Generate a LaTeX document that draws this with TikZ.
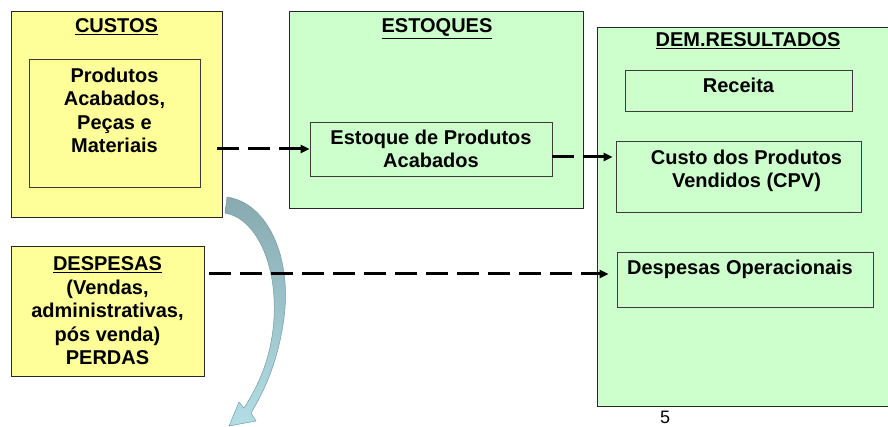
\documentclass[tikz,border=0pt]{standalone}
\usepackage{fontspec}
\setmainfont{Liberation Sans}
\usetikzlibrary{arrows.meta,calc,positioning}
\definecolor{custosyellow}{RGB}{255,255,153}
\definecolor{estoquegreen}{RGB}{204,255,204}
\definecolor{bandteal}{RGB}{136,170,176}
\definecolor{bandlight}{RGB}{178,222,230}
\definecolor{bandedge}{RGB}{118,156,162}
\tikzset{
ybox/.style={draw={rgb,255:red,40;green,40;blue,40}, fill=custosyellow, line width=0.9pt, inner sep=0pt},
gbox/.style={draw={rgb,255:red,40;green,40;blue,40}, fill=estoquegreen, line width=0.9pt, inner sep=0pt},
inbox/.style={draw={rgb,255:red,60;green,60;blue,60}, line width=0.75pt, inner sep=0pt},
boxtext/.style={font=\bfseries\fontsize{20}{23.5}\selectfont, align=center, inner sep=0pt},
dasharr/.style={line width=3pt, dash pattern=on 22pt off 9pt, -{Triangle[length=9pt,width=8pt]}}}

\begin{document}
\begin{tikzpicture}[x=1pt,y=1pt,yscale=-1,xscale=1]

    \useasboundingbox (0,0) rectangle (888,427);

    % boxes
    \node[ybox, minimum width=211pt, minimum height=206pt] (custos) at (116.5,114) {};
    \node[inbox, minimum width=171pt, minimum height=128pt] (prod) at (114.5,123) {};
    \node[gbox, minimum width=294pt, minimum height=197pt] (estoques) at (436,109.5) {};
    \node[inbox, boxtext, minimum width=242pt, minimum height=54pt] (estq) at (431,149)
        {Estoque de Produtos\\Acabados};
    \node[gbox, minimum width=300pt, minimum height=379pt] (dem) at (747,216.5) {};
    \node[inbox, minimum width=227pt, minimum height=41pt] (rec) at (738.5,90.5) {};
    \node[inbox, minimum width=245pt, minimum height=71pt] (cpv) at (738.5,176.5) {};
    \node[inbox, minimum width=256pt, minimum height=55pt] (dop) at (745,279.5) {};
    \node[ybox, boxtext, minimum width=193pt, minimum height=130pt] (desp) at (107.5,311)
        {\underline{DESPESAS}\\(Vendas,\\administrativas,\\pós venda)\\PERDAS};

    % curved block arrow
    \draw[draw=bandedge, line width=0.5pt, top color=bandteal, bottom color=bandlight]
        (227,197) .. controls (268,203) and (292,258) .. (284,318)
        .. controls (279,355) and (268,385) .. (251,413)
        -- (256,421) -- (229,426) -- (239,402) -- (244,408)
        .. controls (262,380) and (272,352) .. (274,318)
        .. controls (277,262) and (255,218) .. (225,213) -- cycle;

    % titles and texts
    \node[boxtext, anchor=base] (custostit) at (116.5,33) {\underline{CUSTOS}};
    \node[boxtext, anchor=base] (estoquestit) at (437,33) {\underline{ESTOQUES}};
    \node[boxtext, anchor=base] (demtit) at (748,47) {\underline{DEM.RESULTADOS}};
    \node[boxtext, anchor=north] (prodtxt) at ($(prod.north)+(0,9)$)
        {Produtos\\Acabados,\\Peças e\\Materiais};
    \node[boxtext, anchor=north] (rectxt) at ($(rec.north)+(0,8)$) {Receita};
    \node[boxtext, anchor=north] (cpvtxt) at ($(cpv.north)+(8,9)$)
        {Custo dos Produtos\\Vendidos (CPV)};
    \node[boxtext, anchor=north] (doptxt) at ($(dop.north)+(-5,8)$) {Despesas Operacionais};
    \node[font=\fontsize{18}{20}\selectfont, inner sep=0pt, anchor=base] (pagenum) at (665,423) {5};

    % flows
    \draw[dasharr, shorten <=17pt] (prod.east |- estq.west) -- (estq.west);
    \coordinate (a2) at ($(estq.east)+(0,8)$);
    \draw[dasharr, shorten >=3pt] (a2) -- (a2 -| cpv.west);
    \coordinate (a3) at ($(desp.east)+(5,-37)$);
    \draw[dasharr, shorten >=8pt] (a3) -- (a3 -| dop.west);

\end{tikzpicture}
\end{document}
